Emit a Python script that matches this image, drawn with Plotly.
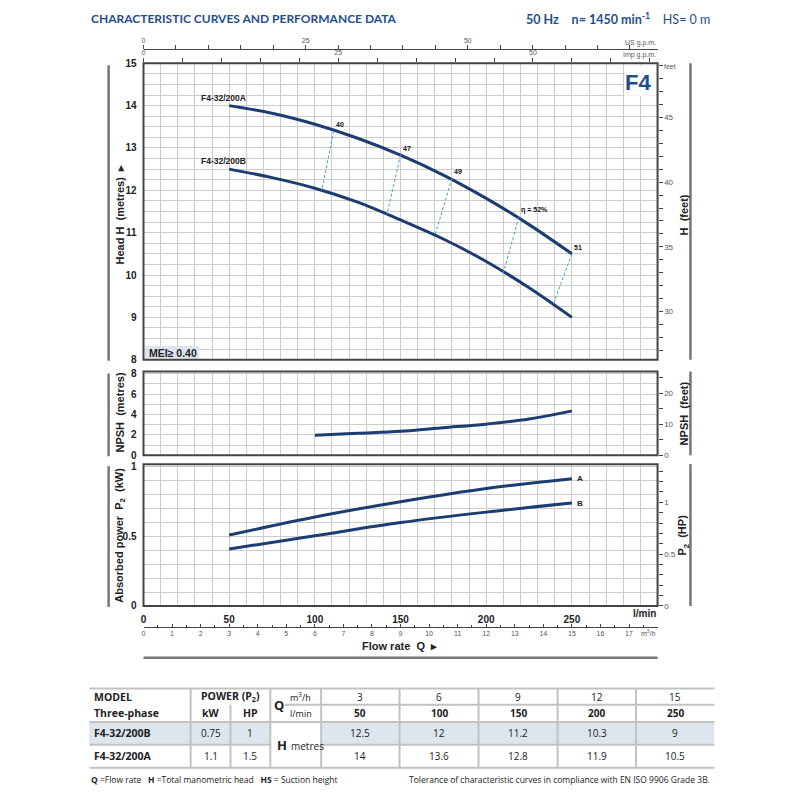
import plotly.graph_objects as go

W = H = 800
OFF = 8  # page body margin of the html output


def px(x):
    return (x - OFF) / W


def py(y):
    return 1 - (y - OFF) / H


FT = 3.28084      # metres -> feet
KW_HP = 0.7457    # kW per HP
US_GAL = 3.785    # l per US gallon
IMP_GAL = 4.546   # l per Imp gallon

# ---- table data ----
flow_m3h = [3, 6, 9, 12, 15]
flow_lpm = [50, 100, 150, 200, 250]
models = ["F4-32/200B", "F4-32/200A"]
power_kw = ["0.75", "1.1"]
power_hp = ["1", "1.5"]
head_B = [12.5, 12, 11.2, 10.3, 9]
head_A = [14, 13.6, 12.8, 11.9, 10.5]

# ---- curves ----
curve_q = [50, 75, 100, 125, 150, 175, 200, 225, 250]
curve_A = [14.0, 13.82, 13.56, 13.23, 12.83, 12.36, 11.81, 11.19, 10.5]
curve_B = [12.5, 12.3, 12.05, 11.72, 11.3, 10.85, 10.32, 9.7, 9.0]

# efficiency lines: point on curve A -> point on curve B
eff_labels = ["40", "47", "49", "η = 52%", "51"]
eff_q_A = [111, 150, 180, 219, 250]
eff_h_A = [13.4, 12.84, 12.28, 11.36, 10.5]
eff_q_B = [104, 142, 170, 210, 239]
eff_h_B = [11.99, 11.42, 10.93, 10.05, 9.3]

npsh_q = [100, 125, 150, 175, 200, 225, 250]
npsh_m = [1.95, 2.15, 2.35, 2.7, 3.05, 3.55, 4.35]

pow_q = [50, 100, 150, 200, 250]
pow_A = [0.51, 0.64, 0.75, 0.845, 0.915]
pow_B = [0.41, 0.505, 0.6, 0.675, 0.74]

# ---- styles ----
NAVY = "#1c3c72"
BLUE_T = "#1f4e8c"
GRID = "#cccccc"
DARK = "#222222"
AX_FONT = "Liberation Sans, Arial, sans-serif"
TXT_FONT = "Open Sans, sans-serif"

fig = go.Figure()

# head curves
for h in (curve_A, curve_B):
    fig.add_trace(go.Scatter(x=curve_q, y=h, mode="lines", xaxis="x", yaxis="y",
                             line=dict(color=NAVY, width=3, shape="spline"),
                             hoverinfo="skip"))

# efficiency dashed lines
for i in range(len(eff_labels)):
    fig.add_trace(go.Scatter(x=[eff_q_A[i], eff_q_B[i]], y=[eff_h_A[i], eff_h_B[i]],
                             mode="lines", xaxis="x", yaxis="y",
                             line=dict(color="#4a9ad6", width=1, dash="3px,2px"),
                             hoverinfo="skip"))

# NPSH
fig.add_trace(go.Scatter(x=npsh_q, y=npsh_m, mode="lines", xaxis="x", yaxis="y2",
                         line=dict(color=NAVY, width=3, shape="spline"), hoverinfo="skip"))

# power
for p in (pow_A, pow_B):
    fig.add_trace(go.Scatter(x=pow_q, y=p, mode="lines", xaxis="x", yaxis="y3",
                             line=dict(color=NAVY, width=3, shape="spline"),
                             hoverinfo="skip"))

# invisible traces so the secondary scales are registered
ghost = dict(mode="markers", marker=dict(opacity=0), hoverinfo="skip", showlegend=False)
fig.add_trace(go.Scatter(x=flow_lpm, y=[h * FT for h in head_A], xaxis="x", yaxis="y4", **ghost))
fig.add_trace(go.Scatter(x=npsh_q, y=[n * FT for n in npsh_m], xaxis="x", yaxis="y5", **ghost))
fig.add_trace(go.Scatter(x=pow_q, y=[p / KW_HP for p in pow_A], xaxis="x", yaxis="y6", **ghost))
fig.add_trace(go.Scatter(x=[q / IMP_GAL for q in flow_lpm], y=head_A, xaxis="x2", yaxis="y", **ghost))
fig.add_trace(go.Scatter(x=[q / US_GAL for q in flow_lpm], y=head_A, xaxis="x3", yaxis="y", **ghost))
fig.add_trace(go.Scatter(x=flow_m3h, y=pow_A, xaxis="x4", yaxis="y3", **ghost))

X_L, X_R = 141, 657
HEAD = (58, 359)
NPSH = (371, 456)
POW = (465, 609)

xdom = [px(X_L), px(X_R)]
small = dict(size=7, color="#555", family=AX_FONT)
lbl = dict(size=10, color=DARK, family=AX_FONT)
hide_tick = dict(ticks="outside", ticklen=4, tickcolor="rgba(0,0,0,0)")


def b(v):
    return "<b>%s</b>" % v


def minor_grid(d):
    return dict(dtick=d, tick0=0, showgrid=True, gridcolor=GRID, gridwidth=1, ticks="")


def side_ticks(d):
    return dict(ticks="outside", ticklen=4, tickcolor="#444",
                minor=dict(dtick=d, tick0=0, ticks="outside", ticklen=4, tickcolor="#444"))


layout = dict(
    width=W, height=H, margin=dict(l=0, r=0, t=0, b=0),
    paper_bgcolor="white", plot_bgcolor="white", showlegend=False,
    xaxis=dict(domain=xdom, range=[0, 300], anchor="y3",
               tickvals=[0] + flow_lpm, ticktext=[b(v) for v in [0] + flow_lpm],
               tickfont=lbl, showgrid=True, gridcolor=GRID, **hide_tick,
               minor=minor_grid(10), zeroline=False, showline=False),
    xaxis2=dict(overlaying="x", anchor="y", side="top", range=[0, 300 / IMP_GAL],
                tickvals=[0, 25, 50], tickfont=small, **side_ticks(5),
                showgrid=False, zeroline=False, showline=False),
    xaxis3=dict(overlaying="x", anchor="free", position=py(44), side="top",
                range=[0, 300 / US_GAL], tickvals=[0, 25, 50], tickfont=small,
                **side_ticks(5),
                showgrid=False, zeroline=False, showline=True, linecolor="#444", linewidth=1),
    xaxis4=dict(overlaying="x", anchor="free", position=py(630), side="bottom",
                range=[0, 18], tickvals=list(range(18)), tickfont=small,
                ticks="inside", ticklen=3, tickcolor="#444",
                minor=dict(dtick=0.5, tick0=0, ticks="inside", ticklen=2, tickcolor="#444"),
                showgrid=False, zeroline=False, showline=True, linecolor="#444", linewidth=1),
    yaxis=dict(domain=[py(HEAD[1]), py(HEAD[0])], range=[8, 15], anchor="x",
               tickvals=list(range(8, 16)), ticktext=[b(v) for v in range(8, 16)],
               tickfont=lbl, showgrid=True, gridcolor=GRID, **hide_tick,
               minor=minor_grid(0.25), zeroline=False),
    yaxis2=dict(domain=[py(NPSH[1]), py(NPSH[0])], range=[0, 8.2], anchor="x",
                tickvals=[0, 2, 4, 6, 8], ticktext=[b(v) for v in [0, 2, 4, 6, 8]],
                tickfont=lbl, showgrid=True, gridcolor=GRID, **hide_tick,
                minor=minor_grid(1), zeroline=False),
    yaxis3=dict(domain=[py(POW[1]), py(POW[0])], range=[0, 1.02], anchor="x",
                tickvals=[0, 0.5, 1], ticktext=[b(v) for v in ["0", "0.5", "1"]],
                tickfont=lbl, showgrid=True, gridcolor=GRID, **hide_tick,
                minor=minor_grid(0.1), zeroline=False),
    yaxis4=dict(overlaying="y", side="right", anchor="x", range=[8 * FT, 15 * FT],
                tickvals=[30, 35, 40, 45], tickfont=dict(size=8, color="#555", family=AX_FONT),
                **side_ticks(1), showgrid=False, zeroline=False),
    yaxis5=dict(overlaying="y2", side="right", anchor="x", range=[0, 8.2 * FT],
                tickvals=[0, 10, 20], tickfont=dict(size=8, color="#555", family=AX_FONT),
                **side_ticks(5), showgrid=False, zeroline=False),
    yaxis6=dict(overlaying="y3", side="right", anchor="x", range=[0, 1.02 / KW_HP],
                tickvals=[0, 0.5, 1], tickfont=dict(size=8, color="#555", family=AX_FONT),
                **side_ticks(0.1), showgrid=False, zeroline=False),
)
fig.update_layout(**layout)

shapes = []
ann = []


def pline(x0, y0, x1, y1, color="#777", width=2.5):
    shapes.append(dict(type="line", xref="paper", yref="paper", x0=px(x0), y0=py(y0),
                       x1=px(x1), y1=py(y1), line=dict(color=color, width=width)))


def prect(x0, y0, x1, y1, fill, layer="above"):
    shapes.append(dict(type="rect", xref="paper", yref="paper", x0=px(x0), y0=py(y0),
                       x1=px(x1), y1=py(y1), fillcolor=fill, line=dict(width=0), layer=layer))


def ptext(x, y, text, size=10, anchor="center", color=DARK, family=TXT_FONT, angle=0):
    ann.append(dict(xref="paper", yref="paper", x=px(x), y=py(y), text=text, showarrow=False,
                    xanchor=anchor, yanchor="middle", textangle=angle,
                    font=dict(size=size, color=color, family=family)))


# MEI box and F4 box
prect(142.5, 345, 197, 358, "#dde5ee")
ptext(145, 352, "<b>MEI≥ 0.40</b>", size=10.5, anchor="left", family=AX_FONT)
prect(623.5, 60, 655.5, 91, "white")
ptext(637, 78, "<b>F4</b>", size=22, color=BLUE_T,
      family="Liberation Sans Narrow, Arial Narrow, Liberation Sans, sans-serif")

# panel borders
for yref in ("y", "y2", "y3"):
    shapes.append(dict(type="rect", xref="x domain", yref=yref + " domain", x0=0, x1=1,
                       y0=0, y1=1, line=dict(color="#444", width=2), layer="above"))

# decorative bars beside axis titles
for top, bot in (HEAD, NPSH, POW):
    pline(106, top + 2, 106, bot + 1)
    pline(690, top, 690, bot)
pline(X_L, 661.5, X_R, 661.5)

# curve labels
for name, h in [("F4-32/200A", curve_A), ("F4-32/200B", curve_B)]:
    ann.append(dict(x=curve_q[0], y=h[0], xref="x", yref="y", text=b(name), showarrow=False,
                    xanchor="center", yanchor="bottom", xshift=-6, yshift=1,
                    font=dict(size=8.5, color=DARK, family=AX_FONT)))
for i, t in enumerate(eff_labels):
    ann.append(dict(x=eff_q_A[i], y=eff_h_A[i], xref="x", yref="y", text=b(t), showarrow=False,
                    xanchor="left", yanchor="bottom", xshift=0, yshift=1,
                    font=dict(size=7, color="#111", family=AX_FONT)))
for name, p in [("A", pow_A), ("B", pow_B)]:
    ann.append(dict(x=pow_q[-1], y=p[-1], xref="x", yref="y3", text=b(name), showarrow=False,
                    xanchor="left", yanchor="middle", xshift=3,
                    font=dict(size=8, color=DARK, family=AX_FONT)))

# unit labels on scales
ptext(X_R, 37, "US g.p.m.", size=7, anchor="right", color="#555", family=AX_FONT)
ptext(X_R, 50, "Imp g.p.m.", size=7, anchor="right", color="#555", family=AX_FONT)
ptext(661, 61, "feet", size=7, anchor="left", color="#555", family=AX_FONT)
ptext(X_R, 617, "<b>l/min</b>", size=10, anchor="right", family=AX_FONT)
ptext(X_R, 636, "m<sup>3</sup>/h", size=7, anchor="right", color="#555", family=AX_FONT)
ptext(398, 650, "<b>Flow rate  Q  ▸</b>", size=11, family=AX_FONT)

# axis titles
ptext(117, 212, "<b>Head H  (metres)  ▸</b>", size=11, angle=-90, family=AX_FONT)
ptext(683, 212, "<b>H  (feet)</b>", size=11, angle=-90, family=AX_FONT)
ptext(117, 413, "<b>NPSH  (metres)</b>", size=11, angle=-90, family=AX_FONT)
ptext(683, 413, "<b>NPSH  (feet)</b>", size=11, angle=-90, family=AX_FONT)
ptext(117, 537, "<b>Absorbed power  P<sub>2</sub>  (kW)</b>", size=11, angle=-90, family=AX_FONT)
ptext(683, 537, "<b>P<sub>2</sub>  (HP)</b>", size=11, angle=-90, family=AX_FONT)

# header
ptext(86, 13, "<b>CHARACTERISTIC CURVES AND PERFORMANCE DATA</b>", size=12, anchor="left",
      color=BLUE_T, family="Lato, sans-serif")
ptext(712, 13, "<b>50 Hz</b>&nbsp;&nbsp;&nbsp;&nbsp;<b>n= 1450 min<sup>-1</sup></b>"
      "&nbsp;&nbsp;&nbsp;&nbsp;HS= 0 m", size=12.5, anchor="right", color=BLUE_T,
      family="Lato, sans-serif")

# ---- table ----
col_x = [86.7, 188.3, 228.3, 268.3, 319.3, 398, 477.3, 556.7, 635.3, 714]
row_y = [692.7, 709.3, 726.7, 750, 773.3]
TL = "#c2c2c2"

prect(col_x[0], row_y[2], col_x[3], row_y[3], "#dde5ee", layer="below")
prect(col_x[4], row_y[2], col_x[-1], row_y[3], "#dde5ee", layer="below")
for yy in (row_y[0], row_y[2], row_y[4]):
    pline(col_x[0], yy, col_x[-1], yy, TL, 2)
pline(283, row_y[1], col_x[-1], row_y[1], TL, 2)
pline(col_x[0], row_y[3], col_x[3], row_y[3], TL, 2)
pline(col_x[4], row_y[3], col_x[-1], row_y[3], TL, 2)
pline(col_x[1], row_y[0], col_x[1], row_y[4], TL, 2)
pline(col_x[2], row_y[1], col_x[2], row_y[4], TL, 2)
for cx in col_x[3:-1]:
    pline(cx, row_y[0], cx, row_y[4], TL, 2)


def mid(i):
    return (row_y[i] + row_y[i + 1]) / 2


def cmid(j):
    return (col_x[j] + col_x[j + 1]) / 2


ptext(89, mid(0), "<b>MODEL</b>", size=10.5, anchor="left")
ptext(89, mid(1), "<b>Three-phase</b>", size=10.5, anchor="left")
ptext(col_x[2], mid(0), "<b>POWER (P<sub>2</sub>)</b>", size=10.5)
ptext(cmid(1), mid(1), "<b>kW</b>", size=10.5)
ptext(cmid(2), mid(1), "<b>HP</b>", size=10.5)
ptext(277, row_y[1], "<b>Q</b>", size=13)
ptext(286, mid(0), "m<sup>3</sup>/h", size=9, anchor="left")
ptext(286, mid(1), "l/min", size=9, anchor="left")
ptext(280, row_y[3], "<b>H</b>", size=13)
ptext(287, row_y[3] + 1, "metres", size=10, anchor="left")

for j in range(len(flow_m3h)):
    ptext(cmid(4 + j), mid(0), str(flow_m3h[j]), size=10)
    ptext(cmid(4 + j), mid(1), b(flow_lpm[j]), size=10)
    ptext(cmid(4 + j), mid(2), str(head_B[j]), size=10)
    ptext(cmid(4 + j), mid(3), str(head_A[j]), size=10)

for r in range(len(models)):
    ptext(89, mid(2 + r), b(models[r]), size=10.5, anchor="left")
    ptext(cmid(1), mid(2 + r), power_kw[r], size=10)
    ptext(cmid(2), mid(2 + r), power_hp[r], size=10)

ptext(86.7, 785, "<b>Q</b> =Flow rate   <b>H</b> =Total manometric head   <b>HS</b> = Suction height",
      size=8.5, anchor="left")
ptext(712, 785, "Tolerance of characteristic curves in compliance with EN ISO 9906 Grade 3B.",
      size=8.5, anchor="right")

fig.update_layout(shapes=shapes, annotations=ann)
fig.write_html("out.html")
